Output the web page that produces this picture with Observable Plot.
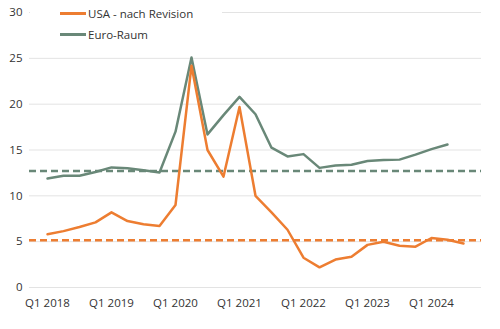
<!DOCTYPE html>
<html>
<head>
<meta charset="utf-8">
<script src="https://cdn.jsdelivr.net/npm/d3@7"></script>
<script src="https://cdn.jsdelivr.net/npm/@observablehq/plot@0.6"></script>
<style>
  html, body { margin: 0; padding: 0; background: #fff; }
  #wrap { position: relative; width: 500px; height: 329px; font-family: "Open Sans", sans-serif; }
  #legend { position: absolute; left: 30px; top: 0; width: 192px; height: 48px; background: #fff; font-size: 11.5px; color: #333; }
  .item { position: absolute; left: 30px; display: flex; align-items: center; white-space: nowrap; }
  .sw { width: 26px; height: 3px; margin-right: 2px; }
</style>
</head>
<body>
<div id="wrap"></div>
<script>
const quarters = [];
for (let y = 2018; y <= 2024; y++) for (let q = 1; q <= 4; q++) quarters.push(`Q${q} ${y}`);
const labels = quarters.slice(0, 27); // Q1 2018 .. Q3 2024
const tickLabels = ["Q1 2018","Q1 2019","Q1 2020","Q1 2021","Q1 2022","Q1 2023","Q1 2024"];
const usa = [5.8, 6.15, 6.6, 7.1, 8.2, 7.25, 6.9, 6.7, 9.0, 24.2, 15.0, 12.1, 19.7, 10.0, 8.2, 6.3, 3.25, 2.2, 3.05, 3.35, 4.65, 5.0, 4.55, 4.45, 5.4, 5.2, 4.8];
const euro = [11.9, 12.2, 12.2, 12.6, 13.1, 13.0, 12.8, 12.55, 17.0, 25.1, 16.7, 18.8, 20.8, 18.9, 15.25, 14.3, 14.55, 13.05, 13.3, 13.4, 13.8, 13.9, 13.95, 14.5, 15.1, 15.6];
const usaAvg = 5.15;
const euroAvg = 12.7;
const yTicks = [0, 5, 10, 15, 20, 25, 30];
const seriesNames = ["USA - nach Revision", "Euro-Raum"];
const colors = ["#ED7D31", "#698878"];

const usaData = usa.map((v, i) => ({q: labels[i], v}));
const euroData = euro.map((v, i) => ({q: labels[i], v}));

const plot = Plot.plot({
  width: 500,
  height: 329,
  marginLeft: 29,
  marginRight: 19,
  marginTop: 12,
  marginBottom: 42,
  style: {fontFamily: "Open Sans, sans-serif", fontSize: "11.5px", color: "#333", background: "#fff"},
  x: {type: "point", domain: labels, padding: 0.5, label: null, ticks: tickLabels, tickSize: 0, tickPadding: 11},
  y: {domain: [0, 30], ticks: yTicks, label: null, tickSize: 0, tickPadding: 7},
  marks: [
    Plot.ruleY(yTicks, {stroke: "#e3e3e3", strokeWidth: 1}),
    Plot.ruleY([euroAvg], {stroke: colors[1], strokeWidth: 2.5, strokeDasharray: "7,4"}),
    Plot.ruleY([usaAvg], {stroke: colors[0], strokeWidth: 2.5, strokeDasharray: "7,4"}),
    Plot.line(euroData, {x: "q", y: "v", stroke: colors[1], strokeWidth: 2.5}),
    Plot.line(usaData, {x: "q", y: "v", stroke: colors[0], strokeWidth: 2.5})
  ]
});

const wrap = document.getElementById("wrap");
wrap.appendChild(plot);
const legend = document.createElement("div");
legend.id = "legend";
seriesNames.forEach((name, i) => {
  const it = document.createElement("div");
  it.className = "item";
  it.style.top = (6 + i * 21) + "px";
  const sw = document.createElement("span");
  sw.className = "sw";
  sw.style.background = colors[i];
  const t = document.createElement("span");
  t.textContent = name;
  it.appendChild(sw); it.appendChild(t);
  legend.appendChild(it);
});
wrap.appendChild(legend);
</script>
</body>
</html>
